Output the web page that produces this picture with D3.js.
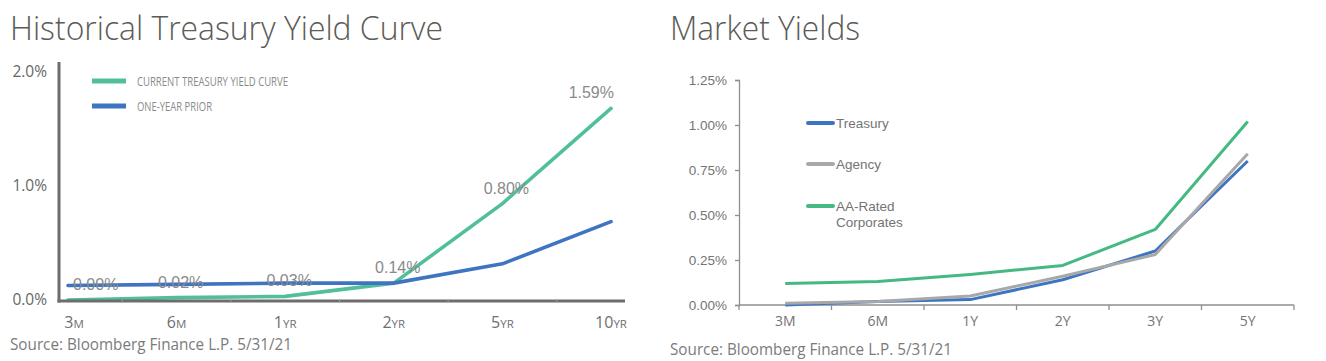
<!DOCTYPE html>
<html>
<head>
<meta charset="utf-8">
<script src="https://cdn.jsdelivr.net/npm/d3@7"></script>
<style>
  html, body { margin: 0; padding: 0; background: #ffffff; }
  svg { display: block; }
</style>
</head>
<body>
<svg id="chart" width="1326" height="361"></svg>
<script>
// ---------- DATA ----------
// Left: Historical Treasury Yield Curve
const leftCategories = ["3M", "6M", "1YR", "2YR", "5YR", "10YR"];
const currentCurve = [0.00, 0.02, 0.03, 0.14, 0.80, 1.59];
const priorCurve   = [0.12, 0.13, 0.14, 0.14, 0.30, 0.65];
const leftTicks = [0, 1, 2];
const leftSeriesNames = ["CURRENT TREASURY YIELD CURVE", "ONE-YEAR PRIOR"];

// Right: Market Yields
const rightCategories = ["3M", "6M", "1Y", "2Y", "3Y", "5Y"];
const treasuryYields  = [0.00, 0.02, 0.03, 0.14, 0.30, 0.80];
const agencyYields    = [0.01, 0.02, 0.05, 0.16, 0.28, 0.84];
const corporateYields = [0.12, 0.13, 0.17, 0.22, 0.42, 1.02];
const rightTicks = [0, 0.25, 0.5, 0.75, 1.0, 1.25];
const rightSeriesNames = ["Treasury", "Agency", "AA-Rated|Corporates"];

const sourceText = "Source: Bloomberg Finance L.P. 5/31/21";

// ---------- STYLE ----------
const C = {
  title: "#5b5b57",
  source: "#7b7b7b",
  green: "#52bf9b",
  blue: "#3f74c1",
  axisDark: "#6d6d6d",
  label: "#8a8a8a",
  rBlue: "#3e75c3",
  rGray: "#a8a8a8",
  rGreen: "#45b982",
  rAxis: "#8f8f8f",
  rText: "#747474"
};
const svg = d3.select("#chart");

function condensedText(x, y, txt, size, len, color, weight) {
  svg.append("text").attr("x", x).attr("y", y)
    .attr("font-family", "'Open Sans', sans-serif")
    .attr("font-weight", weight || 400)
    .attr("font-size", size).attr("fill", color)
    .attr("textLength", len).attr("lengthAdjust", "spacingAndGlyphs")
    .text(txt);
}
condensedText(10, 40, "Historical Treasury Yield Curve", 33, 433, C.title, 300);
condensedText(670, 40, "Market Yields", 33, 190, C.title, 300);
condensedText(10, 350, sourceText, 16.5, 282, C.source, 400);
condensedText(670, 355, sourceText, 16.5, 282, C.source, 400);

// ---------- LEFT CHART ----------
const L = { x0: 59, x1: 625, yBase: 301, yTop: 62 };
const xL = d3.scalePoint().domain(leftCategories).range([68, 611]);
const yL = d3.scaleLinear().domain([0, 2]).range([300, 59]);
// tick-label overlay scale (as placed in the reference design)
const yLabelL = d3.scaleLinear().domain([0, 2]).range([300, 72]);

const gL = svg.append("g");

const yAxisL = d3.axisLeft(yLabelL).tickValues(leftTicks).tickSize(0).tickPadding(12)
  .tickFormat(d => d3.format(".1f")(d) + "%");
gL.append("g").attr("transform", `translate(${L.x0},0)`).call(yAxisL)
  .call(g => g.select(".domain").remove())
  .call(g => g.selectAll("text")
    .attr("font-family", "'Open Sans', sans-serif")
    .attr("font-size", 15.5).attr("fill", "#676767"));

// x category labels (number + small caps letters)
const xLab = gL.append("g");
leftCategories.forEach((c, i) => {
  const m = c.match(/^(\d+)(.*)$/);
  const t = xLab.append("text")
    .attr("x", xL(c) + (i === 0 ? 6 : 0)).attr("y", 328)
    .attr("text-anchor", "middle")
    .attr("font-family", "'Open Sans', sans-serif")
    .attr("fill", "#6f6f6f");
  t.append("tspan").attr("font-size", 16).text(m[1]);
  t.append("tspan").attr("font-size", 11.5).text(m[2]);
});

// lines
const lineL = d3.line().x((d, i) => xL(leftCategories[i])).y(d => yL(d));
gL.append("path").datum(currentCurve).attr("d", lineL)
  .attr("fill", "none").attr("stroke", C.green).attr("stroke-width", 3.6)
  .attr("stroke-linejoin", "round").attr("stroke-linecap", "round");
gL.append("path").datum(priorCurve).attr("d", lineL)
  .attr("fill", "none").attr("stroke", C.blue).attr("stroke-width", 3.6)
  .attr("stroke-linejoin", "round").attr("stroke-linecap", "round");

// axes lines
gL.append("line").attr("x1", L.x0).attr("x2", L.x0).attr("y1", L.yTop).attr("y2", L.yBase + 1.5)
  .attr("stroke", C.axisDark).attr("stroke-width", 3);
gL.append("line").attr("x1", L.x0 - 1.5).attr("x2", L.x1).attr("y1", L.yBase).attr("y2", L.yBase)
  .attr("stroke", C.axisDark).attr("stroke-width", 3);
const stepL = xL.step();
leftCategories.slice(1).forEach(c => {
  gL.append("line").attr("x1", xL(c) - stepL / 2).attr("x2", xL(c) - stepL / 2)
    .attr("y1", L.yBase - 1.5).attr("y2", L.yBase + 1.5)
    .attr("stroke", "#9a9a9a").attr("stroke-width", 1);
});

// data labels for current curve
const fmtPct = d => d3.format(".2f")(d) + "%";
currentCurve.forEach((v, i) => {
  const last = i === currentCurve.length - 1, first = i === 0;
  gL.append("text")
    .attr("x", xL(leftCategories[i]) + (first ? 5 : last ? 3 : 4))
    .attr("y", yL(v) - 10)
    .attr("text-anchor", first ? "start" : last ? "end" : "middle")
    .attr("font-family", "'Liberation Sans', Arial, sans-serif")
    .attr("font-size", 16).attr("fill", C.label)
    .text(fmtPct(v));
});

// legend
const legL = gL.append("g");
[[C.green, 81, 151], [C.blue, 106, 75]].forEach(([col, y, len], i) => {
  legL.append("line").attr("x1", 92).attr("x2", 126).attr("y1", y).attr("y2", y)
    .attr("stroke", col).attr("stroke-width", 5);
  legL.append("text").attr("x", 137).attr("y", y + 4.8)
    .attr("font-family", "'Open Sans', sans-serif").attr("font-size", 13)
    .attr("fill", "#8a8a8a")
    .attr("textLength", len).attr("lengthAdjust", "spacingAndGlyphs")
    .text(leftSeriesNames[i]);
});

// ---------- RIGHT CHART ----------
const R = { x0: 739, x1: 1294, y0: 305, y1: 80 };
const xR = d3.scaleBand().domain(rightCategories).range([R.x0, R.x1]);
const yR = d3.scaleLinear().domain([0, 1.25]).range([R.y0, R.y1]);
const gR = svg.append("g");

const yAxisR = d3.axisLeft(yR).tickValues(rightTicks).tickSize(4).tickPadding(8)
  .tickFormat(d => d3.format(".2f")(d) + "%");
gR.append("g").attr("transform", `translate(${R.x0},0)`).call(yAxisR)
  .call(g => g.select(".domain").attr("stroke", C.rAxis).attr("stroke-width", 1.3))
  .call(g => g.selectAll(".tick line").attr("stroke", C.rAxis).attr("stroke-width", 1.3))
  .call(g => g.selectAll("text")
    .attr("font-family", "'Liberation Sans', Arial, sans-serif")
    .attr("font-size", 13.5).attr("fill", C.rText));

const xAxisR = d3.axisBottom(xR).tickSize(0).tickPadding(11);
gR.append("g").attr("transform", `translate(0,${R.y0})`).call(xAxisR)
  .call(g => g.select(".domain").remove())
  .call(g => g.selectAll("text")
    .attr("font-family", "'Open Sans', sans-serif")
    .attr("font-size", 14).attr("fill", C.rText));
gR.append("line").attr("x1", R.x0).attr("x2", R.x1).attr("y1", R.y0).attr("y2", R.y0)
  .attr("stroke", C.rAxis).attr("stroke-width", 1.3);
d3.range(rightCategories.length + 1).forEach(i => {
  const x = R.x0 + i * xR.step();
  gR.append("line").attr("x1", x).attr("x2", x).attr("y1", R.y0).attr("y2", R.y0 + 5)
    .attr("stroke", C.rAxis).attr("stroke-width", 1.3);
});

const lineR = d3.line().x((d, i) => xR(rightCategories[i]) + xR.bandwidth() / 2).y(d => yR(d));
const rSeries = [[treasuryYields, C.rBlue], [agencyYields, C.rGray], [corporateYields, C.rGreen]];
rSeries.forEach(([vals, col]) => {
  gR.append("path").datum(vals).attr("d", lineR)
    .attr("fill", "none").attr("stroke", col).attr("stroke-width", 3)
    .attr("stroke-linejoin", "round");
});

// legend
const legR = gR.append("g");
[[C.rBlue, 123], [C.rGray, 164], [C.rGreen, 206]].forEach(([col, y], i) => {
  legR.append("line").attr("x1", 808).attr("x2", 833).attr("y1", y).attr("y2", y)
    .attr("stroke", col).attr("stroke-width", 4).attr("stroke-linecap", "round");
  const t = legR.append("text").attr("x", 836).attr("y", y + 5)
    .attr("font-family", "'Liberation Sans', Arial, sans-serif")
    .attr("font-size", 13.5).attr("fill", C.rText);
  rightSeriesNames[i].split("|").forEach((s, k) => {
    t.append("tspan").attr("x", 836).attr("dy", k === 0 ? 0 : 16).text(s);
  });
});
</script>
</body>
</html>
